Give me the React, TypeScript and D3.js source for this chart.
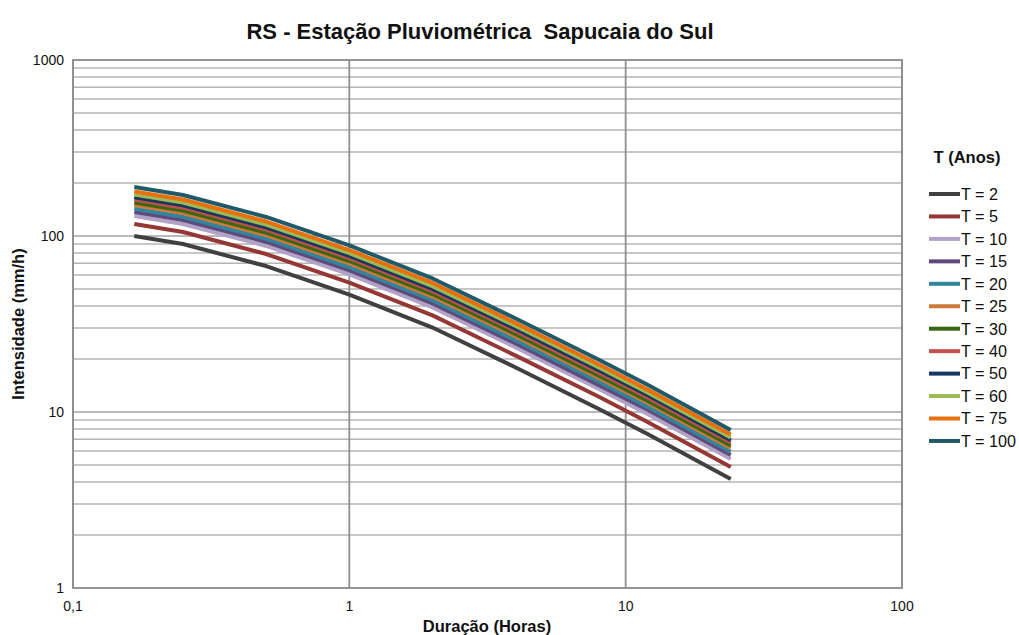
import * as d3 from "d3";

// durations in hours: 10, 15, 30 min, 1, 2, 4, 8, 12, 24 h
const durations = [1 / 6, 0.25, 0.5, 1, 2, 4, 8, 12, 24];

const t2 = [100, 90, 67.5, 46.5, 30.2, 17.9, 10.4, 7.5, 4.16];
const t5 = [117, 105.3, 79, 54.4, 35.4, 20.9, 12.2, 8.78, 4.87];
const t10 = [130, 117, 87.8, 60.5, 39.3, 23.3, 13.5, 9.75, 5.41];
const t15 = [137, 123.3, 92.5, 63.7, 41.4, 24.5, 14.2, 10.3, 5.7];
const t20 = [143, 128.7, 96.5, 66.5, 43.2, 25.6, 14.9, 10.7, 5.95];
const t25 = [150, 135, 101.3, 69.8, 45.3, 26.9, 15.6, 11.3, 6.24];
const t30 = [155, 139.5, 104.6, 72.1, 46.8, 27.7, 16.1, 11.6, 6.45];
const t40 = [161, 144.9, 108.7, 74.9, 48.6, 28.8, 16.7, 12.1, 6.7];
const t50 = [166, 149.4, 112.1, 77.2, 50.1, 29.7, 17.3, 12.5, 6.91];
const t60 = [172, 154.8, 116.1, 80, 51.9, 30.8, 17.9, 12.9, 7.16];
const t75 = [179, 161.1, 120.8, 83.2, 54.1, 32, 18.6, 13.4, 7.45];
const t100 = [190, 171, 128.3, 88.4, 57.4, 34, 19.8, 14.3, 7.9];

const seriesNames = ["T = 2", "T = 5", "T = 10", "T = 15", "T = 20", "T = 25", "T = 30", "T = 40", "T = 50", "T = 60", "T = 75", "T = 100"];
const seriesValues = [t2, t5, t10, t15, t20, t25, t30, t40, t50, t60, t75, t100];
const seriesColors = ["#404040", "#953735", "#B3A2C7", "#604A7B", "#31859C", "#D0773A", "#38680F", "#C0504D", "#17375E", "#9BBB59", "#E8700C", "#215968"];

const xTicks = [0.1, 1, 10, 100];
const xTickLabels = ["0,1", "1", "10", "100"];
const yTicks = [1, 10, 100, 1000];
const yTickLabels = ["1", "10", "100", "1000"];

const width = 1019;
const height = 635;
const margin = { top: 60, right: 117, bottom: 47, left: 73 };

export default function App() {
  const innerRight = width - margin.right;
  const innerBottom = height - margin.bottom;

  const x = d3.scaleLog().domain([0.1, 100]).range([margin.left, innerRight]);
  const y = d3.scaleLog().domain([1, 1000]).range([innerBottom, margin.top]);

  // minor horizontal grid: 2..9 in each decade
  const hGrid: number[] = [];
  for (let d = 1; d < 1000; d *= 10) {
    for (let k = 1; k <= 10; k++) hGrid.push(d * k);
  }

  const line = d3
    .line<number>()
    .x((_, i) => x(durations[i]))
    .y((d) => y(d));

  const font = "'Liberation Sans', Arial, sans-serif";

  return (
    <svg width={width} height={height} style={{ position: "absolute", left: 0, top: 0, background: "#fff" }} fontFamily={font}>
      <text x={480} y={39} textAnchor="middle" fontSize={22} fontWeight="bold" fill="#111" style={{ whiteSpace: "pre" }}>
        RS - Estação Pluviométrica  Sapucaia do Sul
      </text>

      {hGrid.map((v, i) => (
        <line key={"h" + i} x1={margin.left} x2={innerRight} y1={y(v)} y2={y(v)} stroke="#b4b4b4" strokeWidth={1.6} />
      ))}
      {xTicks.map((v) => (
        <line key={"v" + v} x1={x(v)} x2={x(v)} y1={margin.top} y2={innerBottom} stroke="#8e8e8e" strokeWidth={1.8} />
      ))}
      <rect x={margin.left} y={margin.top} width={innerRight - margin.left} height={innerBottom - margin.top} fill="none" stroke="#8e8e8e" strokeWidth={1.8} />

      {seriesValues.map((vals, i) => (
        <path key={seriesNames[i]} d={line(vals) || ""} fill="none" stroke={seriesColors[i]} strokeWidth={4} strokeLinejoin="round" />
      ))}

      {yTicks.map((v, i) => (
        <text key={"yt" + v} x={margin.left - 9} y={y(v)} dy="0.35em" textAnchor="end" fontSize={14} fill="#111">
          {yTickLabels[i]}
        </text>
      ))}
      {xTicks.map((v, i) => (
        <text key={"xt" + v} x={x(v)} y={innerBottom + 23} textAnchor="middle" fontSize={14} fill="#111">
          {xTickLabels[i]}
        </text>
      ))}

      <text x={487} y={632} textAnchor="middle" fontSize={16.5} fontWeight="bold" fill="#111">
        Duração (Horas)
      </text>
      <text transform={`translate(24, ${(margin.top + innerBottom) / 2}) rotate(-90)`} textAnchor="middle" fontSize={16.5} fontWeight="bold" fill="#111">
        Intensidade (mm/h)
      </text>

      <text x={967} y={163} textAnchor="middle" fontSize={16.5} fontWeight="bold" fill="#111">
        T (Anos)
      </text>
      {seriesNames.map((name, i) => {
        const ly = 194 + i * 22.45;
        return (
          <g key={"lg" + name}>
            <line x1={929} x2={960} y1={ly} y2={ly} stroke={seriesColors[i]} strokeWidth={4} />
            <text x={961} y={ly} dy="0.36em" fontSize={16.2} fill="#111">
              {name}
            </text>
          </g>
        );
      })}
    </svg>
  );
}
